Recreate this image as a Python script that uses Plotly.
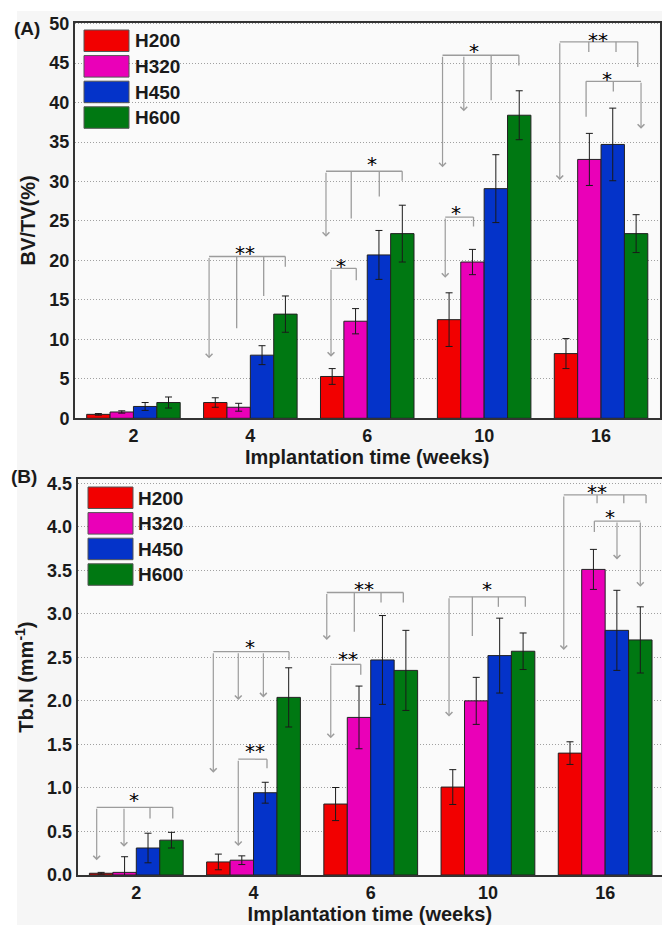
import plotly.graph_objects as go

# ---------------- data ----------------
weeks = ['2', '4', '6', '10', '16']
groups = ['H200', 'H320', 'H450', 'H600']
colors = ['#f20000', '#ea00b8', '#0433c9', '#007812']

# Panel A : BV/TV (%)
bvtv_h200 = [0.5, 2.0, 5.3, 12.5, 8.2]
bvtv_h320 = [0.8, 1.4, 12.3, 19.8, 32.8]
bvtv_h450 = [1.5, 8.0, 20.7, 29.1, 34.7]
bvtv_h600 = [2.0, 13.2, 23.4, 38.4, 23.4]
bvtv_err_h200 = [0.1, 0.6, 1.0, 3.4, 1.9]
bvtv_err_h320 = [0.15, 0.5, 1.6, 1.6, 3.3]
bvtv_err_h450 = [0.5, 1.2, 3.1, 4.3, 4.6]
bvtv_err_h600 = [0.7, 2.3, 3.6, 3.1, 2.4]

# Panel B : Tb.N (mm^-1)
tbn_h200 = [0.02, 0.15, 0.815, 1.01, 1.40]
tbn_h320 = [0.03, 0.17, 1.81, 2.00, 3.51]
tbn_h450 = [0.31, 0.945, 2.47, 2.52, 2.81]
tbn_h600 = [0.40, 2.04, 2.35, 2.57, 2.70]
tbn_err_h200 = [0.01, 0.09, 0.19, 0.20, 0.13]
tbn_err_h320 = [0.18, 0.05, 0.36, 0.27, 0.23]
tbn_err_h450 = [0.17, 0.12, 0.51, 0.43, 0.46]
tbn_err_h600 = [0.09, 0.34, 0.46, 0.21, 0.38]

# significance brackets (data coords: x in category units, y in axis units)
# legs: (x, y_end, has_arrow)
brackets_a = [
    dict(top=20.5, legs=[(0.647, 7.6, True), (0.883, 11.4, False), (1.114, 15.5, False), (1.299, 19.2, False)], label='**', lx=0.957, ly=21.4),
    dict(top=31.3, legs=[(1.647, 23.0, True), (1.863, 25.3, False), (2.103, 28.1, False), (2.299, 30.1, False)], label='*', lx=2.040, ly=32.7),
    dict(top=19.0, legs=[(1.690, 7.8, True), (1.906, 17.5, False)], label='*', lx=1.778, ly=19.8),
    dict(top=46.0, legs=[(2.644, 31.8, True), (2.826, 38.9, True), (3.060, 40.3, False), (3.297, 44.7, False)], label='*', lx=2.917, ly=47.0),
    dict(top=25.5, legs=[(2.667, 17.8, True), (2.909, 24.3, False)], label='*', lx=2.761, ly=26.5),
    dict(top=47.7, legs=[(3.647, 30.2, True), (3.895, 46.4, False), (4.128, 46.4, False), (4.314, 44.5, False)], label='**', lx=3.972, ly=48.5),
    dict(top=42.7, legs=[(3.872, 38.2, False), (4.105, 41.4, False), (4.342, 36.7, True)], label='*', lx=4.051, ly=43.5),
]
brackets_b = [
    dict(top=0.777, legs=[(-0.338, 0.17, True), (-0.105, 0.325, True), (0.117, 0.65, False), (0.311, 0.65, False)], label='*', lx=-0.017, ly=0.91),
    dict(top=2.565, legs=[(0.657, 1.175, True), (0.870, 2.01, True), (1.084, 2.04, True), (1.303, 2.47, False)], label='*', lx=0.970, ly=2.66),
    dict(top=1.33, legs=[(0.870, 0.333, True), (1.115, 1.225, False)], label='**', lx=1.013, ly=1.47),
    dict(top=3.245, legs=[(1.625, 2.70, True), (1.860, 2.795, False), (2.088, 3.13, False), (2.278, 3.13, False)], label='**', lx=1.943, ly=3.33),
    dict(top=2.42, legs=[(1.659, 1.57, True), (1.915, 2.30, False)], label='**', lx=1.809, ly=2.53),
    dict(top=3.195, legs=[(2.668, 1.82, True), (2.867, 2.745, False), (3.089, 3.08, False), (3.319, 3.08, False)], label='*', lx=2.995, ly=3.33),
    dict(top=4.365, legs=[(3.647, 2.585, True), (3.931, 4.27, False), (4.159, 4.27, False), (4.349, 4.27, False)], label='**', lx=3.931, ly=4.44),
    dict(top=4.065, legs=[(3.908, 3.94, False), (4.101, 3.625, True), (4.300, 3.31, True)], label='*', lx=4.044, ly=4.155),
]

W, H = 662, 925
FONT = 'Liberation Sans, Arial, sans-serif'
BR_COL = '#9c9c9c'

panel_a_vals = [bvtv_h200, bvtv_h320, bvtv_h450, bvtv_h600]
panel_a_errs = [bvtv_err_h200, bvtv_err_h320, bvtv_err_h450, bvtv_err_h600]
panel_b_vals = [tbn_h200, tbn_h320, tbn_h450, tbn_h600]
panel_b_errs = [tbn_err_h200, tbn_err_h320, tbn_err_h450, tbn_err_h600]

xpos = list(range(len(weeks)))

fig = go.Figure()
for axn, vals_all, errs_all in [('', panel_a_vals, panel_a_errs), ('2', panel_b_vals, panel_b_errs)]:
    for g, c, v, e in zip(groups, colors, vals_all, errs_all):
        fig.add_trace(go.Bar(
            x=xpos, y=v, name=g, xaxis='x' + axn, yaxis='y' + axn,
            marker=dict(color=c, line=dict(color='#222222', width=1)),
            error_y=dict(type='data', array=e, color='#1a1a1a', thickness=1, width=3.5),
            showlegend=False, legendgroup=g, hoverinfo='skip',
        ))

shapes = []
annotations = []

# background strips
shapes.append(dict(type='rect', xref='paper', yref='paper', x0=0, x1=1, y0=1 - 11 / H, y1=1,
                   fillcolor='white', line=dict(width=0), layer='below'))
shapes.append(dict(type='rect', xref='paper', yref='paper', x0=0, x1=17 / W, y0=0, y1=1,
                   fillcolor='white', line=dict(width=0), layer='below'))


def add_brackets(brs, xr, yr):
    for b in brs:
        xs = [l[0] for l in b['legs']]
        shapes.append(dict(type='line', xref=xr, yref=yr, x0=min(xs), x1=max(xs), y0=b['top'], y1=b['top'],
                           line=dict(color=BR_COL, width=1.3)))
        for (lx, ly, arr) in b['legs']:
            if arr:
                annotations.append(dict(xref=xr, yref=yr, axref=xr, ayref=yr, x=lx, y=ly, ax=lx, ay=b['top'],
                                        text='', showarrow=True, arrowhead=4, arrowsize=1.1, arrowwidth=1.2,
                                        arrowcolor=BR_COL, standoff=0, startstandoff=0))
            else:
                shapes.append(dict(type='line', xref=xr, yref=yr, x0=lx, x1=lx, y0=b['top'], y1=ly,
                                   line=dict(color=BR_COL, width=1.3)))
        annotations.append(dict(xref=xr, yref=yr, x=b['lx'], y=b['ly'], text=b['label'], showarrow=False,
                                font=dict(family='DejaVu Sans', size=20, color='#000000'),
                                xanchor='center', yanchor='middle', yshift=-4))


add_brackets(brackets_a, 'x', 'y')
add_brackets(brackets_b, 'x2', 'y2')


# legends (drawn as swatches + labels)
def add_legend(x0, x1, ytop, tx):
    pitch = 25.6
    for i, (g, c) in enumerate(zip(groups, colors)):
        y0 = ytop + i * pitch
        shapes.append(dict(type='rect', xref='paper', yref='paper', x0=x0 / W, x1=x1 / W,
                           y0=1 - (y0 + 21.5) / H, y1=1 - y0 / H, fillcolor=c,
                           line=dict(color='#555555', width=1)))
        annotations.append(dict(xref='paper', yref='paper', x=tx / W, y=1 - (y0 + 11) / H, text=g,
                                showarrow=False, xanchor='left', yanchor='middle',
                                font=dict(family=FONT, size=19, color='#1a1a1a', weight='bold')))


add_legend(84, 129, 30, 133)
add_legend(88, 133, 487, 136)

# panel labels
annotations.append(dict(xref='paper', yref='paper', x=27 / W, y=1 - 28 / H, text='(A)', showarrow=False,
                        xanchor='center', yanchor='middle', font=dict(family=FONT, size=19, color='#1a1a1a', weight='bold')))
annotations.append(dict(xref='paper', yref='paper', x=24 / W, y=1 - 477 / H, text='(B)', showarrow=False,
                        xanchor='center', yanchor='middle', font=dict(family=FONT, size=19, color='#1a1a1a', weight='bold')))

tickfont = dict(family=FONT, size=18, color='#1a1a1a', weight='bold')
titlefont = dict(family=FONT, size=20, color='#1a1a1a', weight='bold')

xcommon = dict(tickmode='array', tickvals=xpos, ticktext=weeks, showgrid=False, zeroline=False,
               showline=True, linecolor='#333333', linewidth=2, mirror=True, ticks='', tickfont=tickfont,
               automargin=False, fixedrange=True)
ycommon = dict(showgrid=True, gridcolor='#a0a0a0', griddash='1px,2px', gridwidth=1, zeroline=False,
               showline=True, linecolor='#333333', linewidth=2, ticks='', tickfont=tickfont,
               automargin=False, fixedrange=True)

fig.update_layout(
    width=W, height=H,
    margin=dict(l=0, r=0, t=0, b=0),
    paper_bgcolor='#f6f6f6', plot_bgcolor='#fafafa',
    barmode='group', bargap=0.2, bargroupgap=0,
    showlegend=False,
    hovermode=False,
    font=dict(family=FONT),
    xaxis=dict(**xcommon, domain=[75 / W, 659.5 / W], range=[-0.5, 4.5], anchor='y',
               title=dict(text='Implantation time (weeks)', font=titlefont, standoff=4)),
    yaxis=dict(**ycommon, domain=[1 - 418.3 / H, 1 - 22.5 / H], range=[0, 50.15], dtick=5, anchor='x',
               mirror=True,
               title=dict(text='BV/TV(%)', font=titlefont, standoff=8)),
    xaxis2=dict(**xcommon, domain=[77.7 / W, 1.0], range=[-0.5, 4.485], anchor='y2',
                title=dict(text='Implantation time (weeks)', font=titlefont, standoff=4)),
    yaxis2=dict(**ycommon, domain=[1 - 875 / H, 1 - 479.3 / H], range=[0, 4.545], dtick=0.5, tickformat='.1f',
                anchor='x2',
                title=dict(text='Tb.N (mm<sup>-1</sup>)', font=titlefont, standoff=8)),
    shapes=shapes,
    annotations=annotations,
)

fig.write_html('out.html', config={'displayModeBar': False, 'staticPlot': True},
               post_script="document.body.style.margin='0';document.body.style.overflow='hidden';")
